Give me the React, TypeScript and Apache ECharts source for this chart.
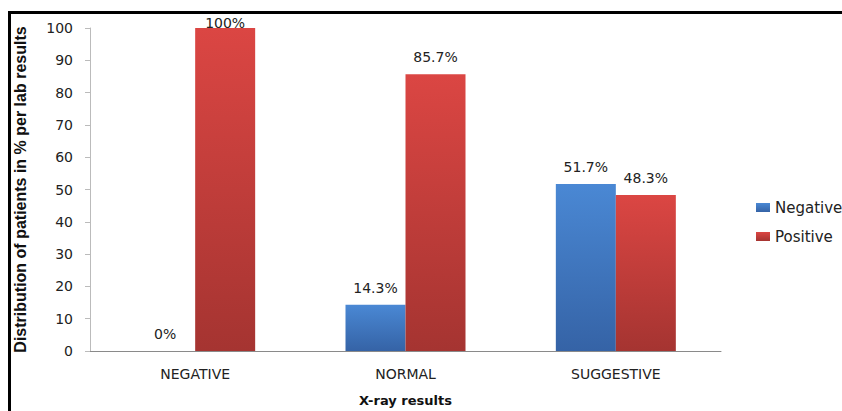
import React, { useEffect, useRef } from "react";
import * as echarts from "echarts";

const categories = ["NEGATIVE", "NORMAL", "SUGGESTIVE"];
const negativeValues = [0, 14.3, 51.7];
const positiveValues = [100, 85.7, 48.3];
const seriesNames = ["Negative", "Positive"];
const yTicks = { min: 0, max: 100, interval: 10 };

const FONT = "DejaVu Sans";

export default function App() {
  const ref = useRef<HTMLDivElement>(null);
  useEffect(() => {
    if (!ref.current) return;
    const chart = echarts.init(ref.current, null, { renderer: "svg", width: 842, height: 411 });
    const grad = (a: string, b: string) =>
      new echarts.graphic.LinearGradient(0, 0, 0, 1, [
        { offset: 0, color: a },
        { offset: 1, color: b },
      ]);
    const mkData = (vals: number[]) =>
      vals.map((v) => (v >= 100 ? { value: v, label: { distance: -2 } } : v));
    const labelCfg = {
      show: true,
      position: "top" as const,
      distance: 10,
      formatter: (p: any) => `${p.value}%`,
      fontFamily: FONT,
      fontSize: 14,
      color: "#222",
    };
    chart.setOption({
      animation: false,
      backgroundColor: "#fff",
      grid: {
        left: 90,
        top: 28,
        width: 631,
        height: 323,
        containLabel: false,
        outerBoundsMode: "none",
      },
      legend: {
        orient: "vertical",
        left: 751,
        top: 195,
        itemWidth: 14,
        itemHeight: 9,
        itemGap: 14,
        icon: "rect",
        textStyle: { fontFamily: FONT, fontSize: 15, color: "#222" },
        data: seriesNames,
      },
      xAxis: {
        type: "category",
        data: categories,
        name: "X-ray results",
        nameLocation: "middle",
        nameGap: 43,
        nameTextStyle: { fontFamily: FONT, fontSize: 13, fontWeight: "bold", color: "#111" },
        axisLine: { lineStyle: { color: "#8a8a8a", width: 1 } },
        axisTick: { show: false },
        axisLabel: { margin: 16, fontFamily: FONT, fontSize: 14, color: "#222" },
      },
      yAxis: {
        type: "value",
        min: yTicks.min,
        max: yTicks.max,
        interval: yTicks.interval,
        name: "Distribution of patients in % per lab results",
        nameLocation: "middle",
        nameGap: 62,
        nameTextStyle: {
          fontFamily: "Liberation Sans",
          fontSize: 16,
          fontWeight: "bold",
          color: "#111",
        },
        axisLine: { show: true, lineStyle: { color: "#bbbbbb" } },
        axisTick: { show: true, length: 5, lineStyle: { color: "#bbbbbb" } },
        axisLabel: { margin: 17, fontFamily: FONT, fontSize: 14, color: "#222" },
        splitLine: { show: false },
      },
      series: [
        {
          name: seriesNames[0],
          type: "bar",
          data: mkData(negativeValues),
          barWidth: 60,
          barGap: "0%",
          itemStyle: {
            color: grad("#4a88d4", "#3563a6"),
            borderWidth: 0,
          },
          label: labelCfg,
        },
        {
          name: seriesNames[1],
          type: "bar",
          data: mkData(positiveValues),
          barWidth: 60,
          barGap: "0%",
          itemStyle: {
            color: grad("#db4643", "#a53431"),
            borderWidth: 0,
          },
          label: labelCfg,
        },
      ],
      graphic: [
        {
          type: "line",
          shape: { x1: 8, y1: 12.5, x2: 842, y2: 12.5 },
          style: { stroke: "#000", lineWidth: 3 },
        },
        {
          type: "line",
          shape: { x1: 9.5, y1: 11, x2: 9.5, y2: 411 },
          style: { stroke: "#000", lineWidth: 3 },
        },
      ],
    });
    return () => chart.dispose();
  }, []);
  return (
    <div
      ref={ref}
      style={{ position: "fixed", left: 0, top: 0, width: 842, height: 411 }}
    />
  );
}
